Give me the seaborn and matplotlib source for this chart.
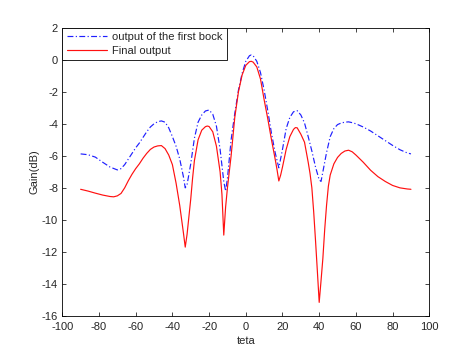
import numpy as np
import pandas as pd
import matplotlib as mpl
mpl.use('Agg')
import matplotlib.pyplot as plt
import seaborn as sns

# values
teta_first = [-90, -86, -82, -78, -74, -70, -68, -66, -64, -62, -60, -58, -56, -54, -52, -50,
              -48, -46, -44, -42, -40, -38, -36, -34, -33, -32, -30, -28, -26, -24, -22, -20,
              -18, -16, -14, -13, -12, -11, -10, -9, -8, -6, -4, -2, 0, 2, 3, 4, 6, 8, 10, 12,
              14, 16, 18, 20, 22, 24, 26, 28, 30, 32, 34, 36, 38, 40, 41, 42, 44, 46, 48, 50,
              52, 54, 56, 58, 60, 64, 68, 72, 76, 80, 84, 88, 90]
gain_first = [-5.88, -5.93, -6.08, -6.4, -6.7, -6.88, -6.8, -6.55, -6.2, -5.85, -5.5, -5.2,
              -4.85, -4.5, -4.2, -4.0, -3.87, -3.82, -3.9, -4.25, -4.8, -5.4, -6.2, -7.3, -8.0,
              -7.8, -6.5, -4.9, -3.9, -3.45, -3.2, -3.14, -3.4, -4.15, -5.6, -6.6, -7.6, -8.2,
              -7.4, -6.2, -5.0, -3.35, -1.9, -0.85, -0.1, 0.25, 0.3, 0.25, -0.1, -0.8, -1.9,
              -3.2, -4.6, -5.8, -6.75, -5.6, -4.3, -3.6, -3.25, -3.18, -3.45, -3.95, -4.8, -5.7,
              -6.7, -7.5, -7.6, -7.0, -5.8, -4.8, -4.3, -4.05, -3.95, -3.9, -3.88, -3.93, -4.0,
              -4.2, -4.45, -4.75, -5.05, -5.35, -5.62, -5.82, -5.88]

teta_final = [-90, -86, -82, -78, -74, -72, -70, -68, -66, -64, -62, -60, -58, -56, -54, -52,
              -50, -48, -46, -44, -42, -40, -38, -36, -34, -33, -32, -30, -29, -28, -26, -24,
              -22, -21, -20, -18, -16, -14, -13, -12, -11, -10, -9, -8, -6, -4, -2, 0, 2, 3, 4,
              6, 8, 10, 12, 14, 16, 17, 18, 19, 20, 22, 24, 26, 27, 28, 30, 32, 34, 35, 36, 37,
              38, 39, 40, 41, 42, 43, 44, 45, 46, 48, 50, 52, 54, 56, 58, 60, 64, 68, 72, 76,
              80, 84, 88, 90]
gain_final = [-8.09, -8.2, -8.33, -8.45, -8.54, -8.56, -8.5, -8.35, -8.0, -7.55, -7.15, -6.8,
              -6.5, -6.15, -5.85, -5.6, -5.45, -5.38, -5.36, -5.55, -5.95, -6.55, -7.7, -9.1,
              -10.8, -11.7, -10.9, -8.7, -7.4, -6.3, -5.0, -4.4, -4.18, -4.14, -4.17, -4.5, -5.4,
              -7.0, -8.4, -10.95, -9.2, -8.0, -7.0, -6.0, -3.6, -2.0, -0.95, -0.35, -0.12, -0.1,
              -0.15, -0.45, -1.2, -2.5, -3.7, -5.0, -6.2, -6.85, -7.57, -7.2, -6.7, -5.6, -4.8,
              -4.35, -4.24, -4.25, -4.65, -5.15, -6.4, -7.1, -8.0, -9.5, -11.3, -13.2, -15.15,
              -13.8, -12.4, -10.6, -9.1, -7.9, -7.2, -6.5, -6.1, -5.85, -5.7, -5.65, -5.75,
              -5.95, -6.4, -6.9, -7.3, -7.6, -7.85, -8.0, -8.07, -8.09]

x_ticks = [-100, -80, -60, -40, -20, 0, 20, 40, 60, 80, 100]
y_ticks = [-16, -14, -12, -10, -8, -6, -4, -2, 0, 2]

sns.set_style('ticks')
plt.rcParams['font.family'] = ['Liberation Sans', 'DejaVu Sans']
plt.rcParams['axes.unicode_minus'] = False

fig = plt.figure(figsize=(4.74, 3.55), dpi=100)
ax = fig.add_axes([0.1314, 0.1099, 0.7743, 0.8121])

df_first = pd.DataFrame({'teta': teta_first, 'gain': gain_first})
df_final = pd.DataFrame({'teta': teta_final, 'gain': gain_final})

sns.lineplot(data=df_first, x='teta', y='gain', ax=ax, color='#1f1fff', lw=0.85,
             linestyle=(0, (5, 2, 1, 2)), label='output of the first bock', sort=False)
sns.lineplot(data=df_final, x='teta', y='gain', ax=ax, color='#ff1010', lw=0.85,
             label='Final output', sort=False)

ax.set_xlim(-100, 100)
ax.set_ylim(-16, 2)
ax.set_xticks(x_ticks)
ax.set_yticks(y_ticks)
ax.tick_params(direction='in', top=True, right=True, labelsize=8, length=3,
               width=0.6)
ax.tick_params(axis='x', pad=4)
ax.tick_params(axis='y', pad=3)
for s in ax.spines.values():
    s.set_linewidth(0.6)
    s.set_color('black')
ax.set_xlabel('teta', fontsize=8, labelpad=3)
ax.set_ylabel('Gain(dB)', fontsize=8, labelpad=2)

leg = ax.legend(loc='upper left', borderaxespad=0, fancybox=False, fontsize=8,
                handlelength=3.6, framealpha=1, edgecolor='black', borderpad=0.4,
                labelspacing=0.35, handletextpad=0.5)
leg.get_frame().set_linewidth(0.6)

fig.savefig('out.png', dpi=100)
